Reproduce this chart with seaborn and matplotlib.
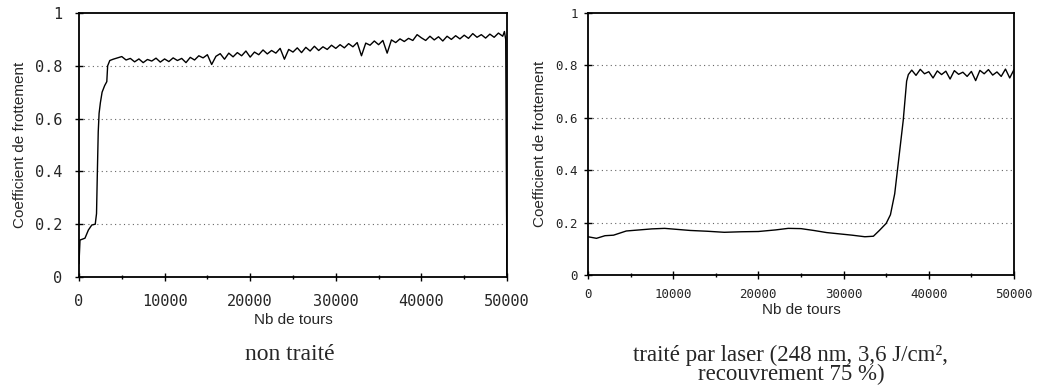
import numpy as np
import pandas as pd
import matplotlib
matplotlib.use("Agg")
import matplotlib.pyplot as plt
import seaborn as sns

# ---- données ----
# essai non traité : montée initiale
nt_x_debut = [0, 120, 700, 1100, 1500, 1900, 2050, 2150, 2250, 2350, 2500, 2700, 3000, 3250, 3350, 3600]
nt_y_debut = [0.05, 0.14, 0.147, 0.178, 0.197, 0.20, 0.24, 0.40, 0.55, 0.62, 0.66, 0.70, 0.725, 0.74, 0.80, 0.82]

# essai non traité : palier bruité (pas de 500 tours, de 4000 à 49500)
nt_x_palier = list(range(4000, 50000, 500))
nt_y_palier = [
    0.825, 0.830, 0.835, 0.822, 0.828, 0.815, 0.826, 0.812, 0.824, 0.818,
    0.829, 0.814, 0.826, 0.816, 0.830, 0.820, 0.828, 0.812, 0.832, 0.822,
    0.838, 0.830, 0.842, 0.805, 0.836, 0.846, 0.825, 0.848, 0.834, 0.850,
    0.838, 0.856, 0.833, 0.852, 0.842, 0.860, 0.845, 0.858, 0.848, 0.866,
    0.825, 0.862, 0.852, 0.868, 0.850, 0.870, 0.856, 0.874, 0.858, 0.872,
    0.862, 0.878, 0.866, 0.880, 0.868, 0.884, 0.872, 0.888, 0.838, 0.886,
    0.878, 0.894, 0.880, 0.896, 0.848, 0.898, 0.888, 0.902, 0.892, 0.904,
    0.896, 0.918, 0.906, 0.896, 0.912, 0.898, 0.910, 0.894, 0.912, 0.900,
    0.914, 0.902, 0.916, 0.904, 0.922, 0.908, 0.918, 0.905, 0.920, 0.908,
    0.924, 0.912,
]

# essai non traité : chute finale
nt_x_fin = [49700, 49850, 49950, 50000]
nt_y_fin = [0.93, 0.90, 0.25, 0.01]

# essai traité laser : régime bas puis transition
tl_x_debut = [0, 1000, 2000, 3000, 4500, 6000, 7500, 9000, 10500, 12000, 14000,
              16000, 18000, 20000, 22000, 23500, 25000, 26500, 28000, 29500,
              31000, 32500, 33500, 34200, 35000, 35500, 36000, 36500, 37000,
              37400, 37600]
tl_y_debut = [0.146, 0.140, 0.150, 0.152, 0.168, 0.172, 0.176, 0.178, 0.174,
              0.170, 0.167, 0.163, 0.165, 0.166, 0.172, 0.178, 0.177, 0.170,
              0.162, 0.157, 0.152, 0.146, 0.148, 0.170, 0.197, 0.23, 0.31,
              0.45, 0.59, 0.74, 0.765]

# essai traité laser : palier bruité
tl_x_palier = list(range(38000, 50001, 500))
tl_y_palier = [
    0.782, 0.762, 0.785, 0.768, 0.776, 0.752, 0.779, 0.765, 0.778, 0.748,
    0.780, 0.766, 0.774, 0.758, 0.777, 0.742, 0.781, 0.768, 0.784, 0.763,
    0.775, 0.758, 0.786, 0.752, 0.784,
]

y_ticks = [0, 0.2, 0.4, 0.6, 0.8, 1]
y_tick_labels = ["0", "0.2", "0.4", "0.6", "0.8", "1"]
x_ticks = [0, 10000, 20000, 30000, 40000, 50000]
x_tick_labels = ["0", "10000", "20000", "30000", "40000", "50000"]

legende_gauche = "non traité"
legende_droite = "traité par laser (248 nm, 3,6 J/cm²,\nrecouvrement 75 %)"

df_nt = pd.DataFrame({
    "tours": nt_x_debut + nt_x_palier + nt_x_fin,
    "coef": nt_y_debut + nt_y_palier + nt_y_fin,
})
df_tl = pd.DataFrame({
    "tours": tl_x_debut + tl_x_palier,
    "coef": tl_y_debut + tl_y_palier,
})

sns.set_style("ticks")
plt.rcParams["font.family"] = ["Liberation Sans", "DejaVu Sans"]

fig = plt.figure(figsize=(10.46, 3.87), dpi=100)
ax1 = fig.add_axes([0.0755, 0.2842, 0.4092, 0.6822])
ax2 = fig.add_axes([0.5621, 0.2894, 0.4073, 0.6770])


def mise_en_forme(ax, df, taille_ticks, pad_y, pad_x, pad_xlabel):
    sns.lineplot(data=df, x="tours", y="coef", ax=ax, color="black",
                 linewidth=1.0, sort=False, estimator=None)
    for g in [0.2, 0.4, 0.6, 0.8]:
        ax.axhline(g, color="#666666", linestyle=(0, (1, 3)), linewidth=0.8, zorder=0)
    ax.set_xlim(0, 50000)
    ax.set_ylim(0, 1)
    ax.set_xticks(x_ticks)
    ax.set_xticklabels(x_tick_labels, family="DejaVu Sans Mono", fontsize=taille_ticks)
    ax.set_yticks(y_ticks)
    ax.set_yticklabels(y_tick_labels, family="DejaVu Sans Mono", fontsize=taille_ticks)
    ax.set_xticks([5000, 15000, 25000, 35000, 45000], minor=True)
    ax.tick_params(axis="both", which="major", direction="inout", length=6,
                   width=1, color="black")
    ax.tick_params(axis="both", which="minor", direction="inout", length=3,
                   width=1, color="black")
    ax.tick_params(axis="y", pad=pad_y)
    ax.tick_params(axis="x", pad=pad_x)
    for s in ax.spines.values():
        s.set_visible(True)
        s.set_color("black")
        s.set_linewidth(1.3)
    ax.set_xlabel("Nb de tours", fontsize=11, labelpad=pad_xlabel)
    ax.set_ylabel("Coefficient de frottement", fontsize=11, labelpad=6)


mise_en_forme(ax1, df_nt, 11, 9, 9, 3)
mise_en_forme(ax2, df_tl, 9, 4, 6, 2)

fig.text(0.2772, 0.0698, legende_gauche, family="Liberation Serif", fontsize=17,
         ha="center", va="baseline")
fig.text(0.7562, 0.004, legende_droite, family="Liberation Serif", fontsize=16.5,
         ha="center", va="bottom", multialignment="center", linespacing=0.9)

fig.savefig("out.png", dpi=100)
